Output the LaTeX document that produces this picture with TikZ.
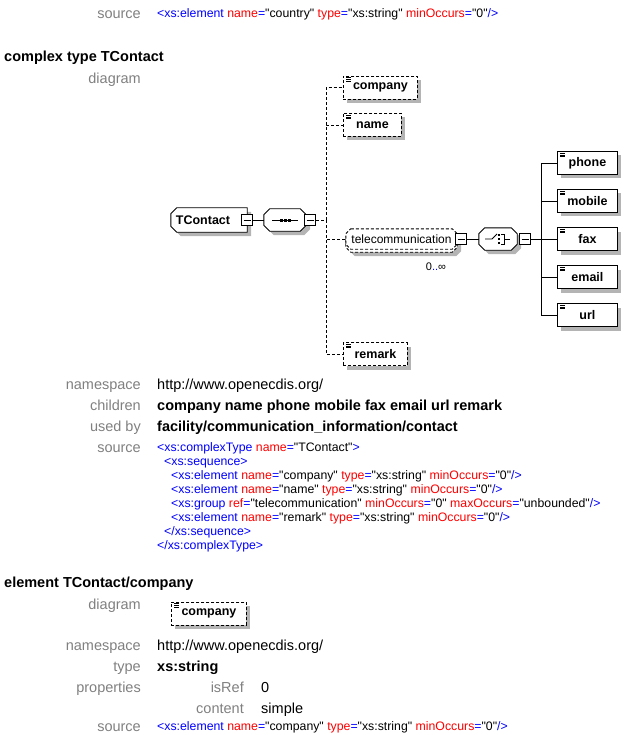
\documentclass[tikz,border=0pt]{standalone}
\usepackage{fontspec}
\setmainfont{Liberation Sans}
\usetikzlibrary{backgrounds}
% raw font for source code, keeps straight quotes
\font\codefnt="Liberation Sans" at 12.3pt
\definecolor{lblgray}{HTML}{808080}
\definecolor{xtag}{HTML}{0000FF}
\definecolor{xattr}{HTML}{FF0000}
\definecolor{shadowgray}{HTML}{B4B4B4}
\newcommand{\tg}[1]{\textcolor{xtag}{#1}}
\newcommand{\av}[2]{\textcolor{xattr}{#1}\textcolor{xtag}{=}"#2"}
\newcommand{\lblfont}{\fontsize{14.5}{17}\selectfont}
\newcommand{\boxfont}{\fontsize{12.5}{14}\selectfont\bfseries}
% octagon round a node: #1 node, #2 chamfer, #3/#4 shift
\newcommand{\octpath}[4]{([xshift=#3+#2, yshift=#4]#1.north west) -- ([xshift=#3-#2, yshift=#4]#1.north east)
    -- ([xshift=#3, yshift=#4-#2]#1.north east) -- ([xshift=#3, yshift=#4+#2]#1.south east)
    -- ([xshift=#3-#2, yshift=#4]#1.south east) -- ([xshift=#3+#2, yshift=#4]#1.south west)
    -- ([xshift=#3, yshift=#4+#2]#1.south west) -- ([xshift=#3, yshift=#4-#2]#1.north west) -- cycle}
% chamfered on the left side only
\newcommand{\leftoctpath}[4]{([xshift=#3+#2, yshift=#4]#1.north west) -- ([xshift=#3, yshift=#4]#1.north east)
    -- ([xshift=#3, yshift=#4]#1.south east) -- ([xshift=#3+#2, yshift=#4]#1.south west)
    -- ([xshift=#3, yshift=#4+#2]#1.south west) -- ([xshift=#3, yshift=#4-#2]#1.north west) -- cycle}

\begin{document}
\begin{tikzpicture}[x=1pt, y=-1pt,
    lbl/.style={anchor=mid east, inner sep=0pt, yshift=-3pt, text=lblgray, font=\lblfont},
    val/.style={anchor=mid west, inner sep=0pt, yshift=-3pt, font=\lblfont},
    valb/.style={val, font=\lblfont\bfseries},
    code/.style={anchor=mid west, inner sep=0pt, yshift=-2.5pt, font=\codefnt},
    dashy/.style={dash pattern=on 3pt off 2pt},
    simple icon/.style={path picture={
        \foreach \dy in {1.6,3.4,5.2}
            \draw[solid, line width=0.7pt] ([xshift=3pt, yshift=-\dy pt]path picture bounding box.north west) -- ++(5pt,0pt);
    }},
    elem/.style={draw, fill=white, line width=0.9pt, anchor=west, minimum height=23pt, inner sep=0pt, font=\boxfont, simple icon},
    model/.style={rectangle, minimum height=22pt, inner sep=0pt},
    minus/.style={rectangle, draw, solid, fill=white, line width=1.2pt, minimum size=11pt, inner sep=0pt,
        path picture={\draw[solid, line width=0.9pt] ([xshift=2pt]path picture bounding box.west) -- ([xshift=-2pt]path picture bounding box.east);}},
    conn/.style={line width=0.9pt},
]
\useasboundingbox (0,0) rectangle (625,735);

% previous element source
\node[lbl] (srclbl0) at (141,13) {source};
\node[code] (src0) at (157,12) {\tg{<xs:element} \av{name}{country} \av{type}{xs:string} \av{minOccurs}{0}\tg{/>}};

% complex type TContact
\node[valb] (hdtype) at (4,56) {complex type TContact};
\node[lbl] (diaglbl) at (141,78) {diagram};

% shadows of the element boxes
\foreach \x/\y/\w in {343/76/74, 343/113.5/58, 343/342.5/64, 557/151.5/60, 557/189.5/60, 557/227.5/60, 557/265.5/60, 557/303.5/60, 171/602/75}
    \fill[shadowgray] (\x+4,\y+4) rectangle ++(\w,23);

% diagram
\node[model, minimum width=76pt, minimum height=24pt, font=\boxfont] (tcontact) at (209,220) {TContact\hspace*{12pt}};
\node[minus] (tcm) at (tcontact.east) {};
\node[model, minimum width=42pt] (seq) at (285,220) {};
\node[minus] (seqm) at (310,220) {};
\draw[conn] ([xshift=-13pt]seq.center) -- ([xshift=13pt]seq.center);
\foreach \dx in {-4,0,4}
    \fill ([xshift=\dx pt]seq.center) ++(-1.5pt,-1.5pt) rectangle ++(3pt,3pt);

\node[elem, dashy, minimum width=74pt] (company) at (343,87.5) {company};
\node[elem, dashy, minimum width=58pt] (name) at (343,125) {name};
\node[model, minimum width=111pt, minimum height=20pt, font=\fontsize{12}{14}\selectfont] (telecom) at (401.5,239) {telecommunication};
\node[minus] (telm) at (461,239) {};
\node[inner sep=0pt, font=\fontsize{11}{13}\selectfont] (teloccur) at (436,267) {0\tg{..}∞};
\node[elem, dashy, minimum width=64pt] (remark) at (343,354) {remark};

\node[model, minimum width=38pt] (choice) at (498,239) {};
\node[minus] (chm) at (525,239) {};
\draw[conn] (choice.center) ++(-13pt,0pt) -- ++(7pt,0pt) -- ++(5pt,5pt);
\draw[conn] (choice.center) ++(3pt,5pt) -- ++(3pt,0pt) -- ++(0pt,-10pt) -- ++(-3pt,0pt)
    (choice.center) ++(6pt,0pt) -- ++(6pt,0pt);
\foreach \dy in {-4,0,4}
    \fill ([xshift=1pt, yshift=\dy pt]choice.center) ++(-1.4pt,-1.4pt) rectangle ++(2.8pt,2.8pt);

\node[elem, minimum width=60pt] (phone) at (557,163) {phone};
\node[elem, minimum width=60pt] (mobile) at (557,201) {mobile};
\node[elem, minimum width=60pt] (fax) at (557,239) {fax};
\node[elem, minimum width=60pt] (email) at (557,277) {email};
\node[elem, minimum width=60pt] (url) at (557,315) {url};

% connectors
\coordinate (trunk) at (326,220);
\coordinate (ctrunk) at (541.5,239);
\draw[conn] (tcm) -- (seq);
\draw[conn, dashy] (seqm) -- (trunk);
\foreach \n in {company, name, telecom, remark}
    \draw[conn, dashy] (trunk) |- (\n);
\draw[conn] (telm) -- (choice);
\draw[conn] (chm) -- (ctrunk);
\foreach \n in {phone, mobile, fax, email, url}
    \draw[conn] (ctrunk) |- (\n);

% element TContact/company
\node[valb] (hdelem) at (4,582) {element TContact/company};
\node[lbl] (ediaglbl) at (141,604) {diagram};
\node[elem, dashy, minimum width=75pt] (ecompany) at (171,613.5) {company};

% outlines of the model groups
\begin{scope}[on background layer]
    \fill[shadowgray] \leftoctpath{tcontact}{6pt}{4pt}{-4pt};
    \fill[shadowgray] \octpath{seq}{6pt}{4pt}{-4pt};
    \fill[shadowgray] \octpath{choice}{6pt}{4pt}{-4pt};
    \fill[shadowgray] \octpath{telecom}{5pt}{4pt}{-7pt};
    \filldraw[conn, fill=white] \leftoctpath{tcontact}{6pt}{0pt}{0pt};
    \filldraw[conn, fill=white] \octpath{seq}{6pt}{0pt}{0pt};
    \filldraw[conn, fill=white] \octpath{choice}{6pt}{0pt}{0pt};
    \filldraw[conn, dashy, fill=white] \octpath{telecom}{5pt}{0pt}{-3pt};
    \filldraw[conn, dashy, fill=white] \octpath{telecom}{5pt}{0pt}{0pt};
\end{scope}

% properties of TContact
\node[lbl] (nslbl) at (141,384) {namespace};
\node[val] (nsval) at (157,384) {http://www.openecdis.org/};
\node[lbl] (chlbl) at (141,405) {children};
\node[valb] (chval) at (157,405) {company name phone mobile fax email url remark};
\node[lbl] (uselbl) at (141,426) {used by};
\node[valb] (useval) at (157,426) {facility/communication\_information/contact};
\node[lbl] (srclbl1) at (141,447) {source};
\node[code] (src1) at (157,446) {\tg{<xs:complexType} \av{name}{TContact}\tg{>}};
\node[code] (src2) at (164,460) {\tg{<xs:sequence>}};
\node[code] (src3) at (171,474) {\tg{<xs:element} \av{name}{company} \av{type}{xs:string} \av{minOccurs}{0}\tg{/>}};
\node[code] (src4) at (171,488) {\tg{<xs:element} \av{name}{name} \av{type}{xs:string} \av{minOccurs}{0}\tg{/>}};
\node[code] (src5) at (171,502) {\tg{<xs:group} \av{ref}{telecommunication} \av{minOccurs}{0} \av{maxOccurs}{unbounded}\tg{/>}};
\node[code] (src6) at (171,516) {\tg{<xs:element} \av{name}{remark} \av{type}{xs:string} \av{minOccurs}{0}\tg{/>}};
\node[code] (src7) at (164,530) {\tg{</xs:sequence>}};
\node[code] (src8) at (157,544) {\tg{</xs:complexType>}};

% properties of TContact/company
\node[lbl] (ensl) at (141,645) {namespace};
\node[val] (ensval) at (157,645) {http://www.openecdis.org/};
\node[lbl] (etypelbl) at (141,666) {type};
\node[valb] (etypeval) at (157,666) {xs:string};
\node[lbl] (eproplbl) at (141,687) {properties};
\node[lbl] (isreflbl) at (244,687) {isRef};
\node[val] (isrefval) at (261,687) {0};
\node[lbl] (contlbl) at (244,708) {content};
\node[val] (contval) at (261,708) {simple};
\node[lbl] (srclbl2) at (141,726) {source};
\node[code] (src9) at (157,725) {\tg{<xs:element} \av{name}{company} \av{type}{xs:string} \av{minOccurs}{0}\tg{/>}};
\end{tikzpicture}
\end{document}
